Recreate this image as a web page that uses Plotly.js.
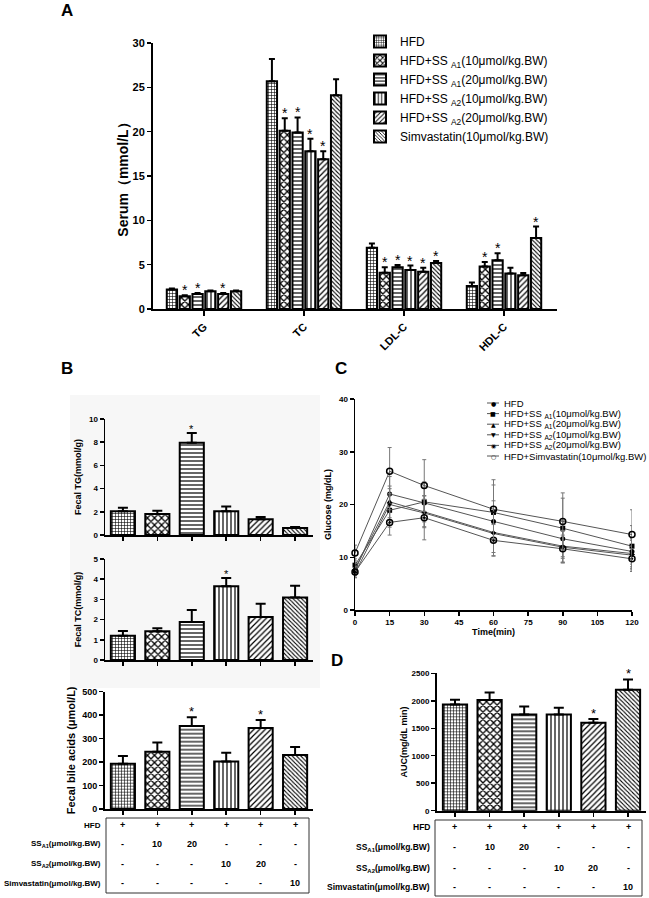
<!DOCTYPE html>
<html><head><meta charset="utf-8">
<script src="https://cdn.plot.ly/plotly-3.0.1.min.js"></script>
<style>html,body{margin:0;padding:0;background:#fff}#chart{width:649px;height:898px}</style>
</head><body><div id="chart"></div>
<script>
// ---------- DATA ----------
const groupNames = ['HFD','HFD+SS <sub>A1</sub>(10μmol/kg.BW)','HFD+SS <sub>A1</sub>(20μmol/kg.BW)','HFD+SS <sub>A2</sub>(10μmol/kg.BW)','HFD+SS <sub>A2</sub>(20μmol/kg.BW)','Simvastatin(10μmol/kg.BW)'];
const groupKeys = ['HFD','SSA1-10','SSA1-20','SSA2-10','SSA2-20','Simvastatin'];

// Panel A: serum lipids (mmol/L)
const serumCats = ['TG','TC','LDL-C','HDL-C'];
const serumHFD   = [2.2, 25.7, 6.9, 2.6];
const serumA1_10 = [1.45, 20.1, 4.1, 4.8];
const serumA1_20 = [1.7, 19.9, 4.7, 5.5];
const serumA2_10 = [2.0, 17.8, 4.4, 4.0];
const serumA2_20 = [1.7, 16.9, 4.2, 3.8];
const serumSimva = [2.0, 24.1, 5.2, 8.0];
const serumErrHFD   = [0.1, 2.5, 0.5, 0.4];
const serumErrA1_10 = [0.1, 1.4, 0.6, 0.5];
const serumErrA1_20 = [0.1, 1.7, 0.25, 0.8];
const serumErrA2_10 = [0.1, 1.4, 0.5, 0.65];
const serumErrA2_20 = [0.1, 0.9, 0.45, 0.25];
const serumErrSimva = [0.08, 1.8, 0.2, 1.3];
const serumSigHFD   = [0,0,0,0];
const serumSigA1_10 = [1,1,1,1];
const serumSigA1_20 = [1,1,1,1];
const serumSigA2_10 = [0,1,1,0];
const serumSigA2_20 = [1,1,1,0];
const serumSigSimva = [0,0,1,1];

// Panel B: fecal
const fecalTG    = [2.05, 1.8, 7.95, 2.05, 1.35, 0.6];
const fecalTGErr = [0.3, 0.3, 0.85, 0.4, 0.2, 0.1];
const fecalTGSig = [0,0,1,0,0,0];
const fecalTC    = [1.2, 1.42, 1.88, 3.65, 2.13, 3.09];
const fecalTCErr = [0.24, 0.15, 0.59, 0.41, 0.66, 0.59];
const fecalTCSig = [0,0,0,1,0,0];
const fecalBA    = [193, 244, 354, 203, 345, 230];
const fecalBAErr = [33, 39, 37, 37, 34, 34];
const fecalBASig = [0,0,1,0,1,0];

// Panel C: glucose tolerance (mg/dL)
const times = [0, 15, 30, 60, 90, 120];
const gluHFD   = [7.5, 22.0, 20.3, 16.8, 13.5, 11.1];
const gluA1_10 = [8.5, 18.9, 20.5, 18.5, 15.5, 12.1];
const gluA1_20 = [7.8, 20.5, 18.6, 14.7, 12.1, 10.7];
const gluA2_10 = [7.0, 20.0, 18.4, 14.5, 11.9, 10.4];
const gluA2_20 = [7.2, 16.6, 17.5, 13.2, 11.6, 9.7];
const gluSimva = [10.8, 26.3, 23.6, 19.1, 16.8, 14.3];
const gluErrHFD   = [1.0, 3.3, 2.8, 3.9, 3.4, 2.4];
const gluErrA1_10 = [1.2, 3.2, 3.8, 5.2, 5.7, 3.9];
const gluErrA1_20 = [1.0, 3.0, 3.0, 3.8, 3.0, 2.8];
const gluErrA2_10 = [0.9, 3.0, 2.6, 4.2, 3.0, 2.8];
const gluErrA2_20 = [1.0, 2.4, 4.2, 3.0, 2.6, 2.4];
const gluErrSimva = [1.5, 4.5, 4.9, 5.6, 5.4, 4.7];
const gluNames = ['HFD','HFD+SS <sub>A1</sub>(10μmol/kg.BW)','HFD+SS <sub>A1</sub>(20μmol/kg.BW)','HFD+SS <sub>A2</sub>(10μmol/kg.BW)','HFD+SS <sub>A2</sub>(20μmol/kg.BW)','HFD+Simvastatin(10μmol/kg.BW)'];

// Panel D: AUC
const auc    = [1933, 2012, 1752, 1752, 1600, 2200];
const aucErr = [85, 140, 145, 121, 67, 188];
const aucSig = [0,0,0,0,1,1];

// Treatment tables
const tableRows = ['HFD','SS<sub>A1</sub>(μmol/kg.BW)','SS<sub>A2</sub>(μmol/kg.BW)','Simvastatin(μmol/kg.BW)'];
const tableHFD   = ['+','+','+','+','+','+'];
const tableSSA1  = ['-','10','20','-','-','-'];
const tableSSA2  = ['-','-','-','10','20','-'];
const tableSimva = ['-','-','-','-','-','10'];

// ---------- STYLE ----------
const FONT = 'Liberation Sans, Arial, sans-serif';
const patShapes = ['+','x','-','|','/','\\'];
const patSizes  = [3, 5, 4, 4, 4, 3];
const patSolid  = [0.35, 0.45, 0.3, 0.3, 0.3, 0.35];
const gluSymbols = ['circle','square','triangle-up','triangle-down','circle-open-dot','circle-open'];
const gluGlyphs  = ['●','■','▲','▼','◉','○'];

const W = 649, H = 898;
const px = v => v / W;
const py = v => 1 - v / H;

const serumVals = [serumHFD, serumA1_10, serumA1_20, serumA2_10, serumA2_20, serumSimva];
const serumErrs = [serumErrHFD, serumErrA1_10, serumErrA1_20, serumErrA2_10, serumErrA2_20, serumErrSimva];
const serumSigs = [serumSigHFD, serumSigA1_10, serumSigA1_20, serumSigA2_10, serumSigA2_20, serumSigSimva];
const gluVals = [gluHFD, gluA1_10, gluA1_20, gluA2_10, gluA2_20, gluSimva];
const gluErrs = [gluErrHFD, gluErrA1_10, gluErrA1_20, gluErrA2_10, gluErrA2_20, gluErrSimva];
const tableVals = [tableHFD, tableSSA1, tableSSA2, tableSimva];

const BARGAP = 0.23;
const traces = [];
const annotations = [];
const shapes = [];

// Panel A traces
serumVals.forEach((vals, i) => {
  traces.push({
    type: 'bar', x: serumCats, y: vals, name: groupNames[i], xaxis: 'x', yaxis: 'y',
    marker: { color: 'white', line: { color: 'black', width: 2 },
      pattern: { shape: patShapes[i], size: patSizes[i], solidity: patSolid[i], fgcolor: 'black', bgcolor: 'white' } },
    error_y: { type: 'data', array: serumErrs[i], arrayminus: vals.map(() => 0), symmetric: false,
      color: 'black', thickness: 2, width: 3 },
    legend: 'legend'
  });
  const slot = (1 - BARGAP) / 6;
  serumSigs[i].forEach((s, c) => {
    if (s) annotations.push({ xref: 'x', yref: 'y', x: c - (1 - BARGAP) / 2 + (i + 0.5) * slot,
      y: vals[c] + serumErrs[i][c], text: '*', showarrow: false, yanchor: 'bottom', yshift: -5,
      font: { family: FONT, size: 14, color: 'black' } });
  });
});

// Panel B & D bar traces
function singleBars(y, err, sig, xa, ya, starSize) {
  traces.push({
    type: 'bar', x: groupKeys, y: y, xaxis: xa, yaxis: ya, width: 0.7, showlegend: false,
    marker: { color: 'white', line: { color: 'black', width: 2 },
      pattern: { shape: patShapes, size: patSizes, solidity: patSolid, fgcolor: 'black', bgcolor: 'white' } },
    error_y: { type: 'data', array: err, arrayminus: y.map(() => 0), symmetric: false,
      color: 'black', thickness: 2, width: 5 }
  });
  sig.forEach((s, k) => {
    if (s) annotations.push({ xref: xa, yref: ya, x: groupKeys[k], y: y[k] + err[k], text: '*',
      showarrow: false, yanchor: 'bottom', yshift: -4, font: { family: FONT, size: starSize, color: 'black' } });
  });
}
singleBars(fecalTG, fecalTGErr, fecalTGSig, 'x2', 'y2', 11);
singleBars(fecalTC, fecalTCErr, fecalTCSig, 'x3', 'y3', 11);
singleBars(fecalBA, fecalBAErr, fecalBASig, 'x4', 'y4', 13);
singleBars(auc, aucErr, aucSig, 'x6', 'y6', 13);

// Panel C lines
gluVals.forEach((vals, i) => {
  traces.push({
    type: 'scatter', mode: 'lines+markers', x: times, y: vals, xaxis: 'x5', yaxis: 'y5',
    name: gluNames[i], showlegend: false, cliponaxis: false,
    line: { color: '#555', width: 1 },
    marker: { symbol: gluSymbols[i], size: i >= 4 ? 6 : 5, color: 'black', line: { color: 'black', width: i >= 4 ? 1.5 : 0 } },
    error_y: { type: 'data', array: gluErrs[i], color: '#777', thickness: 1, width: 2 }
  });
});

// Manual legend for panel C
gluNames.forEach((n, i) => {
  const yy = 403 + i * 10.6;
  shapes.push({ type: 'line', xref: 'paper', yref: 'paper', x0: px(487), x1: px(499), y0: py(yy), y1: py(yy),
    line: { color: '#555', width: 1 } });
  annotations.push({ xref: 'paper', yref: 'paper', x: px(493), y: py(yy), text: gluGlyphs[i], showarrow: false,
    xanchor: 'center', yanchor: 'middle', font: { family: 'DejaVu Sans', size: 6, color: 'black' } });
  annotations.push({ xref: 'paper', yref: 'paper', x: px(502), y: py(yy), text: n, showarrow: false,
    xanchor: 'left', yanchor: 'middle', font: { family: FONT, size: 9.5, color: 'black' } });
});

// Tables
function table(xa, x0, x1, y0, y1, labelRight, rowY, labelSize) {
  shapes.push({ type: 'rect', xref: 'paper', yref: 'paper', x0: px(x0), x1: px(x1), y0: py(y1), y1: py(y0),
    line: { color: '#333', width: 1 } });
  tableRows.forEach((r, ri) => {
    annotations.push({ xref: 'paper', yref: 'paper', x: px(labelRight), y: py(rowY[ri]), text: r, showarrow: false,
      xanchor: 'right', yanchor: 'middle', font: { family: FONT, size: labelSize, weight: 'bold', color: 'black' } });
    tableVals[ri].forEach((v, k) => {
      annotations.push({ xref: xa, yref: 'paper', x: groupKeys[k], y: py(rowY[ri]), text: v, showarrow: false,
        xanchor: 'center', yanchor: 'middle', font: { family: FONT, size: 9, weight: 'bold', color: 'black' } });
    });
  });
}
table('x4', 106, 309, 818, 893, 103, [825, 844, 864, 883], 8);
table('x6', 435, 642, 820, 896, 432, [827, 847, 868, 887], 8.5);

// Panel labels
[['A', 67, 10], ['B', 67, 368], ['C', 341, 368], ['D', 337, 660]].forEach(([t, x, y]) => {
  annotations.push({ xref: 'paper', yref: 'paper', x: px(x), y: py(y), text: t, showarrow: false,
    xanchor: 'center', yanchor: 'middle', font: { family: FONT, size: 17, weight: 'bold', color: 'black' } });
});

// light backdrop of panel B top plots
shapes.push({ type: 'rect', xref: 'paper', yref: 'paper', x0: px(70), x1: px(320), y0: py(688), y1: py(395),
  fillcolor: '#f7f7f7', line: { width: 0 }, layer: 'below' });

function axBase(extra) {
  return Object.assign({ showline: true, linecolor: 'black', linewidth: 2, ticks: 'outside', ticklen: 4,
    tickwidth: 1.5, tickcolor: 'black', showgrid: false, zeroline: false, fixedrange: true,
    tickfont: { family: FONT, size: 8, weight: 'bold', color: 'black' } }, extra);
}
function yTitle(t, size, standoff) {
  return { text: t, standoff: standoff, font: { family: FONT, size: size, weight: 'bold', color: 'black' } };
}

const layout = {
  width: W, height: H, margin: { l: 0, r: 0, t: 0, b: 0 },
  paper_bgcolor: 'white', plot_bgcolor: 'rgba(0,0,0,0)',
  font: { family: FONT, color: 'black' },
  barmode: 'group', bargap: BARGAP, bargroupgap: 0.2,
  xaxis: axBase({ domain: [px(153), px(557)], anchor: 'y', type: 'category', range: [-0.51, 3.53],
    tickangle: -45, tickfont: { family: FONT, size: 11, weight: 'bold', color: 'black' }, ticklen: 5 }),
  yaxis: axBase({ domain: [py(309), py(43)], anchor: 'x', range: [0, 30], dtick: 5,
    tickfont: { family: FONT, size: 11, weight: 'bold', color: 'black' },
    title: yTitle('Serum（mmol/L）', 14, 1) }),
  xaxis2: axBase({ domain: [px(105), px(313)], anchor: 'y2', type: 'category', range: [-0.52, 5.52], showticklabels: false, linewidth: 1.5 }),
  yaxis2: axBase({ domain: [py(535), py(419)], anchor: 'x2', range: [0, 10], dtick: 2, linewidth: 1.5, title: yTitle('Fecal TG(mmol/g)', 9, 6) }),
  xaxis3: axBase({ domain: [px(105), px(313)], anchor: 'y3', type: 'category', range: [-0.52, 5.52], showticklabels: false, linewidth: 1.5 }),
  yaxis3: axBase({ domain: [py(660), py(559)], anchor: 'x3', range: [0, 5], dtick: 1, linewidth: 1.5, title: yTitle('Fecal TC(mmol/g)', 9, 10) }),
  xaxis4: axBase({ domain: [px(105), px(313)], anchor: 'y4', type: 'category', range: [-0.52, 5.52], showticklabels: false }),
  yaxis4: axBase({ domain: [py(809), py(691.7)], anchor: 'x4', range: [0, 500], dtick: 100,
    tickfont: { family: FONT, size: 9, weight: 'bold', color: 'black' }, title: yTitle('Fecal bile acids (μmol/L)', 11, 4) }),
  xaxis5: axBase({ domain: [px(355), px(632)], anchor: 'y5', range: [0, 120], dtick: 15, linewidth: 1.5,
    title: { text: 'Time(min)', standoff: 2, font: { family: FONT, size: 9, weight: 'bold', color: 'black' } } }),
  yaxis5: axBase({ domain: [py(610), py(399)], anchor: 'x5', range: [0, 40], dtick: 10, linewidth: 1.5,
    title: yTitle('Glucose (mg/dL)', 9, 6) }),
  xaxis6: axBase({ domain: [px(437), px(646)], anchor: 'y6', type: 'category', range: [-0.52, 5.52], showticklabels: false }),
  yaxis6: axBase({ domain: [py(810.7), py(673.3)], anchor: 'x6', range: [0, 2500], dtick: 500,
    title: yTitle('AUC(mg/dL min)', 9, 2) }),
  legend: { x: px(360), y: py(27), xanchor: 'left', yanchor: 'top', bgcolor: 'rgba(0,0,0,0)',
    font: { family: FONT, size: 12, color: 'black' }, itemwidth: 30, tracegroupgap: 0, traceorder: 'normal' },
  annotations: annotations,
  shapes: shapes
};

Plotly.newPlot('chart', traces, layout, { staticPlot: true, displayModeBar: false });
</script>
</body></html>
